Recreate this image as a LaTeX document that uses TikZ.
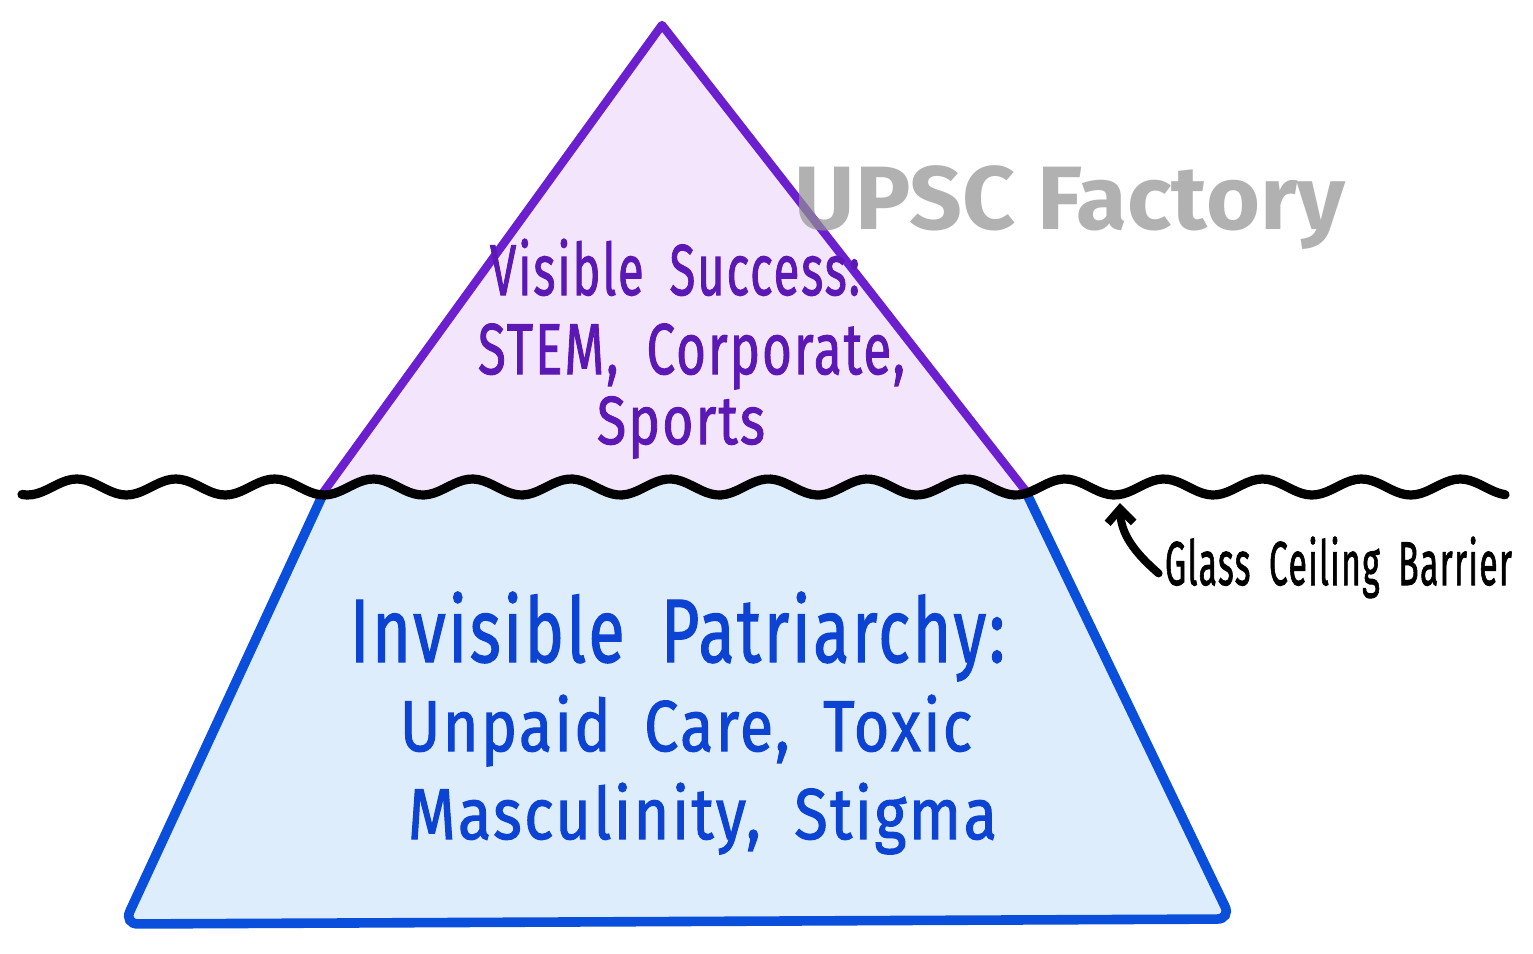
\documentclass[tikz,border=0pt]{standalone}
\usepackage{fontspec}
\setmainfont{Fira Sans}[FakeBold=1.6,LetterSpace=4,WordSpace=1.8]
\newfontfamily\wmfont{Fira Sans}
\usetikzlibrary{arrows.meta}
\definecolor{purpleline}{HTML}{6B1FCF}
\definecolor{purplefill}{HTML}{F3E6FC}
\definecolor{blueline}{HTML}{0A4FDB}
\definecolor{bluefill}{HTML}{DEEDFC}
\definecolor{purpletext}{HTML}{5C18B4}
\definecolor{bluetext}{HTML}{0D43D3}
\definecolor{wmgray}{HTML}{919191}
\newcommand{\fitline}[3]{\resizebox{#1}{\height}{\fontsize{#2}{#2}\selectfont #3}}
\begin{document}
\begin{tikzpicture}[x=0.5pt,y=-0.5pt,
  txt/.style={anchor=base,inner sep=0pt},
  ptxt/.style={txt,text=purpletext},
  btxt/.style={txt,text=bluetext},
  wave/.style={line width=4.6pt,line cap=round,line join=round}]
\useasboundingbox (0,0) rectangle (1533,954);
\fill[white] (0,0) rectangle (1533,954);
% visible tip
\begin{scope}
\clip plot[domain=0:1533,samples=300] (\x,{487-8*cos((\x-77)/98.8*360)}) -- (1533,0) -- (0,0) -- cycle;
\filldraw[fill=purplefill,draw=purpleline,line width=4.2pt,line join=round]
  (310.5,510) -- (662,25) -- (1040.6,510) -- cycle;
\end{scope}
% submerged base
\begin{scope}
\clip plot[domain=0:1533,samples=300] (\x,{487-8*cos((\x-77)/98.8*360)}) -- (1533,954) -- (0,954) -- cycle;
\filldraw[fill=bluefill,draw=blueline,line width=4.8pt,rounded corners=7pt]
  (336.5,465) -- (124,924) -- (1231,919) -- (1013,465) -- cycle;
\end{scope}
% water line
\draw[wave] plot[domain=22:1505,samples=300] (\x,{487-8*cos((\x-77)/98.8*360)});
% texts
\node[ptxt] (p1) at (675,295) {\fitline{185pt}{36}{Visible Success:}};
\node[ptxt] (p2) at (691.5,374) {\fitline{213.5pt}{36}{STEM, Corporate,}};
\node[ptxt] (p3) at (681,444) {\fitline{84pt}{34}{Sports}};
\node[btxt] (b1) at (677.5,662) {\fitline{327.5pt}{45}{Invisible Patriarchy:}};
\node[btxt] (b2) at (686,751) {\fitline{286pt}{36}{Unpaid Care, Toxic}};
\node[btxt] (b3) at (702.5,839) {\fitline{294.5pt}{36}{Masculinity, Stigma}};
\node[txt,text=black] (glass) at (1338.5,585) {\fitline{173.5pt}{31}{Glass Ceiling Barrier}};
\coordinate (tip) at (1120,503);
\draw[line width=4pt,line cap=round,line join=round,-{Straight Barb[length=7pt,width=13pt,line width=4pt]}]
  ([xshift=-3pt,yshift=-3pt]glass.west) .. controls (1134,552) and (1121,534) .. (tip);
% watermark
\node[txt,text=wmgray,text opacity=0.7] (wm) at (1070,229) {\fitline{275pt}{45}{\wmfont\bfseries UPSC Factory}};
\end{tikzpicture}
\end{document}
